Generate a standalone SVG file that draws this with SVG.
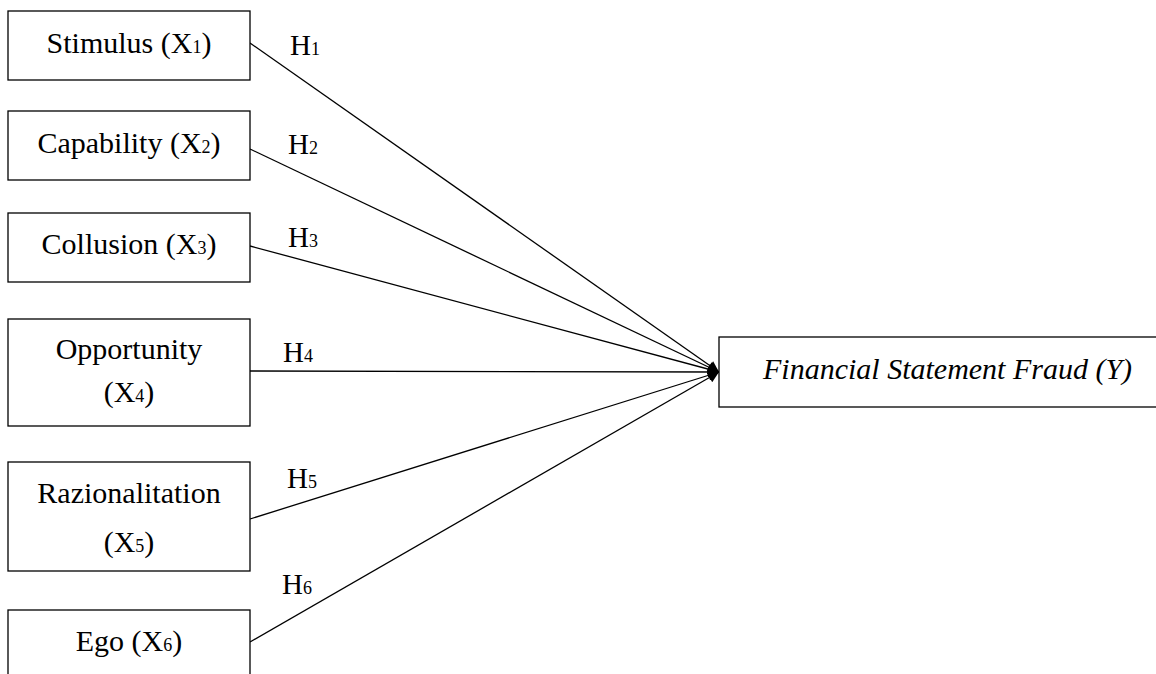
<svg xmlns="http://www.w3.org/2000/svg" width="1156" height="674" viewBox="0 0 1156 674">
<style>
.box{fill:#fff;stroke:#000;stroke-width:1.3}
.t{font-family:"Liberation Serif","Times New Roman",serif;font-size:30px;fill:#000}
.s{font-size:18px}
.lbl{font-family:"Liberation Serif","Times New Roman",serif;font-size:29px;fill:#000}
.c{stroke:#000;stroke-width:1.3;fill:none;marker-end:url(#ah)}
</style>
<defs>
<marker id="ah" viewBox="0 0 10 10" refX="10" refY="5" markerWidth="12" markerHeight="11" markerUnits="userSpaceOnUse" orient="auto">
<path d="M0,0 L10,5 L0,10 z" fill="#000"/>
</marker>
</defs>
<rect width="1156" height="674" fill="#fff"/>
<g id="connectors">
<line class="c" x1="250" y1="43" x2="719" y2="372"/>
<line class="c" x1="250" y1="149" x2="719" y2="372"/>
<line class="c" x1="250" y1="246" x2="719" y2="372"/>
<line class="c" x1="250" y1="371" x2="719" y2="372"/>
<line class="c" x1="250" y1="519" x2="719" y2="372"/>
<line class="c" x1="250" y1="642" x2="719" y2="372"/>
<text class="lbl" x="290" y="55">H<tspan class="s">1</tspan></text>
<text class="lbl" x="288" y="154">H<tspan class="s">2</tspan></text>
<text class="lbl" x="288" y="247">H<tspan class="s">3</tspan></text>
<text class="lbl" x="283" y="362">H<tspan class="s">4</tspan></text>
<text class="lbl" x="287" y="488">H<tspan class="s">5</tspan></text>
<text class="lbl" x="282" y="594">H<tspan class="s">6</tspan></text>
</g>
<g id="stimulus">
<rect class="box" x="8" y="11" width="242" height="69"/>
<text class="t" x="129" y="53" text-anchor="middle">Stimulus (X<tspan class="s">1</tspan>)</text>
</g>
<g id="capability">
<rect class="box" x="8" y="111" width="242" height="69"/>
<text class="t" x="129" y="153" text-anchor="middle">Capability (X<tspan class="s">2</tspan>)</text>
</g>
<g id="collusion">
<rect class="box" x="8" y="213" width="242" height="69"/>
<text class="t" x="129" y="254" text-anchor="middle">Collusion (X<tspan class="s">3</tspan>)</text>
</g>
<g id="opportunity">
<rect class="box" x="8" y="319" width="242" height="107"/>
<text class="t" x="129" y="359" text-anchor="middle">Opportunity</text>
<text class="t" x="129" y="402" text-anchor="middle">(X<tspan class="s">4</tspan>)</text>
</g>
<g id="razionalitation">
<rect class="box" x="8" y="462" width="242" height="109"/>
<text class="t" x="129" y="503" text-anchor="middle">Razionalitation</text>
<text class="t" x="129" y="552" text-anchor="middle">(X<tspan class="s">5</tspan>)</text>
</g>
<g id="ego">
<rect class="box" x="8" y="610" width="242" height="80"/>
<text class="t" x="129" y="651" text-anchor="middle">Ego (X<tspan class="s">6</tspan>)</text>
</g>
<g id="fraud">
<rect class="box" x="719" y="337" width="460" height="70"/>
<text class="t" x="763" y="379" font-style="italic">Financial Statement Fraud (Y)</text>
</g>
</svg>
